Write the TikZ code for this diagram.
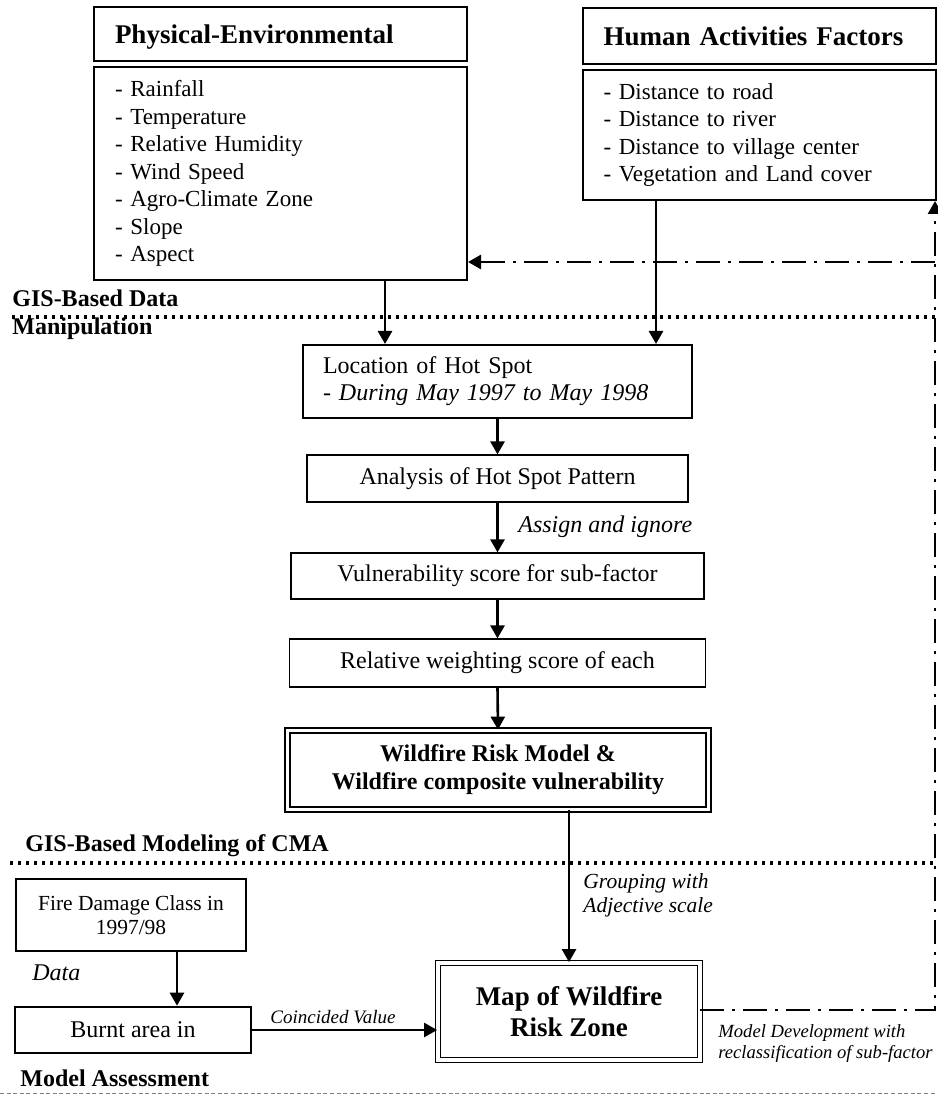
\documentclass[tikz,border=0pt]{standalone}
\usepackage{fontspec}
\setmainfont{Liberation Serif}
\usetikzlibrary{arrows.meta}

\tikzset{
	box/.style={draw, line width=1pt, inner sep=0pt, font=\fontsize{12}{13.75}\selectfont},
	thinbox/.style={box, line width=0.6pt, align=center},
	headbox/.style={box, text depth=0pt, align=left, inner xsep=10.5pt, font=\fontsize{13.5}{16}\selectfont\bfseries},
	listbox/.style={box, align=left, inner xsep=10.5pt, font=\fontsize{11.5}{13.75}\selectfont},
	dblbox/.style={box, double, line width=0.9pt, double distance=1.6pt, align=center},
	flow/.style={-{Triangle[length=6.5pt,width=7pt]}, line width=1.3pt},
	feedback/.style={-{Triangle[length=6.5pt,width=7pt]}, line width=1.3pt, dash pattern=on 12pt off 4pt on 1.5pt off 4pt},
	sepline/.style={line width=1.6pt, dash pattern=on 1.6pt off 2.4pt},
	note/.style={inner sep=0pt, anchor=base west, align=left, font=\fontsize{12}{12}\selectfont\itshape},
	smallnote/.style={note, font=\fontsize{9.3}{10.5}\selectfont\itshape},
	stage/.style={inner sep=0pt, anchor=base west, align=left, font=\fontsize{12}{14}\selectfont\bfseries},
}

\begin{document}
\begin{tikzpicture}[x=0.5pt, y=-0.5pt]
	\useasboundingbox (0,0) rectangle (937,1096);
	% factor boxes
	\node[headbox, text width=165.5pt, minimum height=27pt] (phyhead) at (280.5,34) {Physical-Environmental};
	\node[listbox, text width=165.5pt, minimum height=106.5pt] (phylist) at (280.5,173.5) {- Rainfall\\- Temperature\\- Relative Humidity\\- Wind Speed\\- Agro-Climate Zone\\- Slope\\- Aspect};
	\node[headbox, text width=155.5pt, minimum height=28pt] (humhead) at (759,36) {\mbox{Human Activities Factors}};
	\node[listbox, text width=155.5pt, minimum height=65pt] (humlist) at (759,135) {- Distance to road\\- Distance to river\\- Distance to village center\\- Vegetation and Land cover};
	% modelling chain
	\node[box, text width=174.5pt, inner xsep=10pt, minimum height=36.5pt, align=left, font=\fontsize{12}{13.5}\selectfont] (hotspot) at (497.5,381.5) {Location of Hot Spot\\{\itshape - During May 1997 to May 1998}};
	\node[thinbox, minimum width=190.5pt, minimum height=23.5pt] (pattern) at (497.5,478.5) {Analysis of Hot Spot Pattern};
	\node[thinbox, minimum width=206.5pt, minimum height=23pt] (vulscore) at (497.5,576) {Vulnerability score for sub-factor};
	\node[thinbox, minimum width=208pt, minimum height=24pt] (weight) at (497.5,663) {Relative weighting score of each};
	\node[dblbox, minimum width=210.5pt, minimum height=39.5pt, font=\fontsize{12}{14}\selectfont\bfseries] (riskmodel) at (498,770) {Wildfire Risk Model \&\\Wildfire composite vulnerability};
	\node[dblbox, minimum width=131pt, minimum height=48.5pt, font=\fontsize{13.5}{15.5}\selectfont\bfseries] (mapzone) at (569,1011.5) {Map of Wildfire\\Risk Zone};
	% assessment
	\node[box, minimum width=115pt, minimum height=36pt, align=center, font=\fontsize{10.75}{12}\selectfont] (firedmg) at (131,915) {Fire Damage Class in\\1997/98};
	\node[box, line width=1.3pt, minimum width=118pt, minimum height=23pt] (burnt) at (133,1030) {Burnt area in};
	% stage labels and separators
	\node[stage] (stage1) at (12,335) {GIS-Based Data\\Manipulation};
	\node[stage] (stage2) at (25,851) {GIS-Based Modeling of CMA};
	\node[stage] (stage3) at (20,1086) {Model Assessment};
	\coordinate (sep1a) at (12,317);
	\coordinate (sep1b) at (935,317);
	\coordinate (sep2a) at (10,863);
	\coordinate (sep2b) at (935,863);
	\coordinate (sep3a) at (0,1093);
	\coordinate (sep3b) at (937,1093);
	\draw[sepline] (sep1a) -- (sep1b);
	\draw[sepline] (sep2a) -- (sep2b);
	\draw[gray, line width=0.5pt, dash pattern=on 2pt off 1.3pt] (sep3a) -- (sep3b);
	% connectors
	\coordinate (phyx) at (385,0);
	\coordinate (humx) at (656,0);
	\coordinate (firex) at (177,0);
	\draw[flow] (phyx |- phylist.south) -- (phyx |- hotspot.north);
	\draw[flow] (humx |- humlist.south) -- (humx |- hotspot.north);
	\draw[flow] (hotspot.south) -- (pattern.north);
	\draw[flow] (pattern.south) -- (vulscore.north);
	\draw[flow] (vulscore.south) -- (weight.north);
	\draw[flow] (weight.south) -- (riskmodel.north);
	\draw[flow] (mapzone.north |- riskmodel.south) -- (mapzone.north);
	\draw[flow] (firex |- firedmg.south) -- (firex |- burnt.north);
	\draw[flow] (burnt.east) -- (burnt.east -| mapzone.west);
	\node[note] (assign) at (518,532) {Assign and ignore};
	\node[smallnote, font=\fontsize{9.5}{10.5}\selectfont\itshape] (coincide) at (270,1023) {Coincided Value};
	\node[note, font=\fontsize{10.75}{12}\selectfont\itshape] (grouping) at (583,912) {Grouping with\\Adjective scale};
	\node[note] (extract) at (32,980) {Data};
	\node[smallnote] (develop) at (718,1058) {Model Development with\\reclassification of sub-factor};
	% feedback loop
	\coordinate (fbstart) at (700,1010);
	\coordinate (fbcorner) at (935,1010);
	\coordinate (fbjoin) at (935,262);
	\draw[feedback] (fbstart) -- (fbcorner) -- (fbcorner |- humlist.south);
	\draw[feedback] (fbjoin) -- (fbjoin -| phylist.east);
\end{tikzpicture}
\end{document}
